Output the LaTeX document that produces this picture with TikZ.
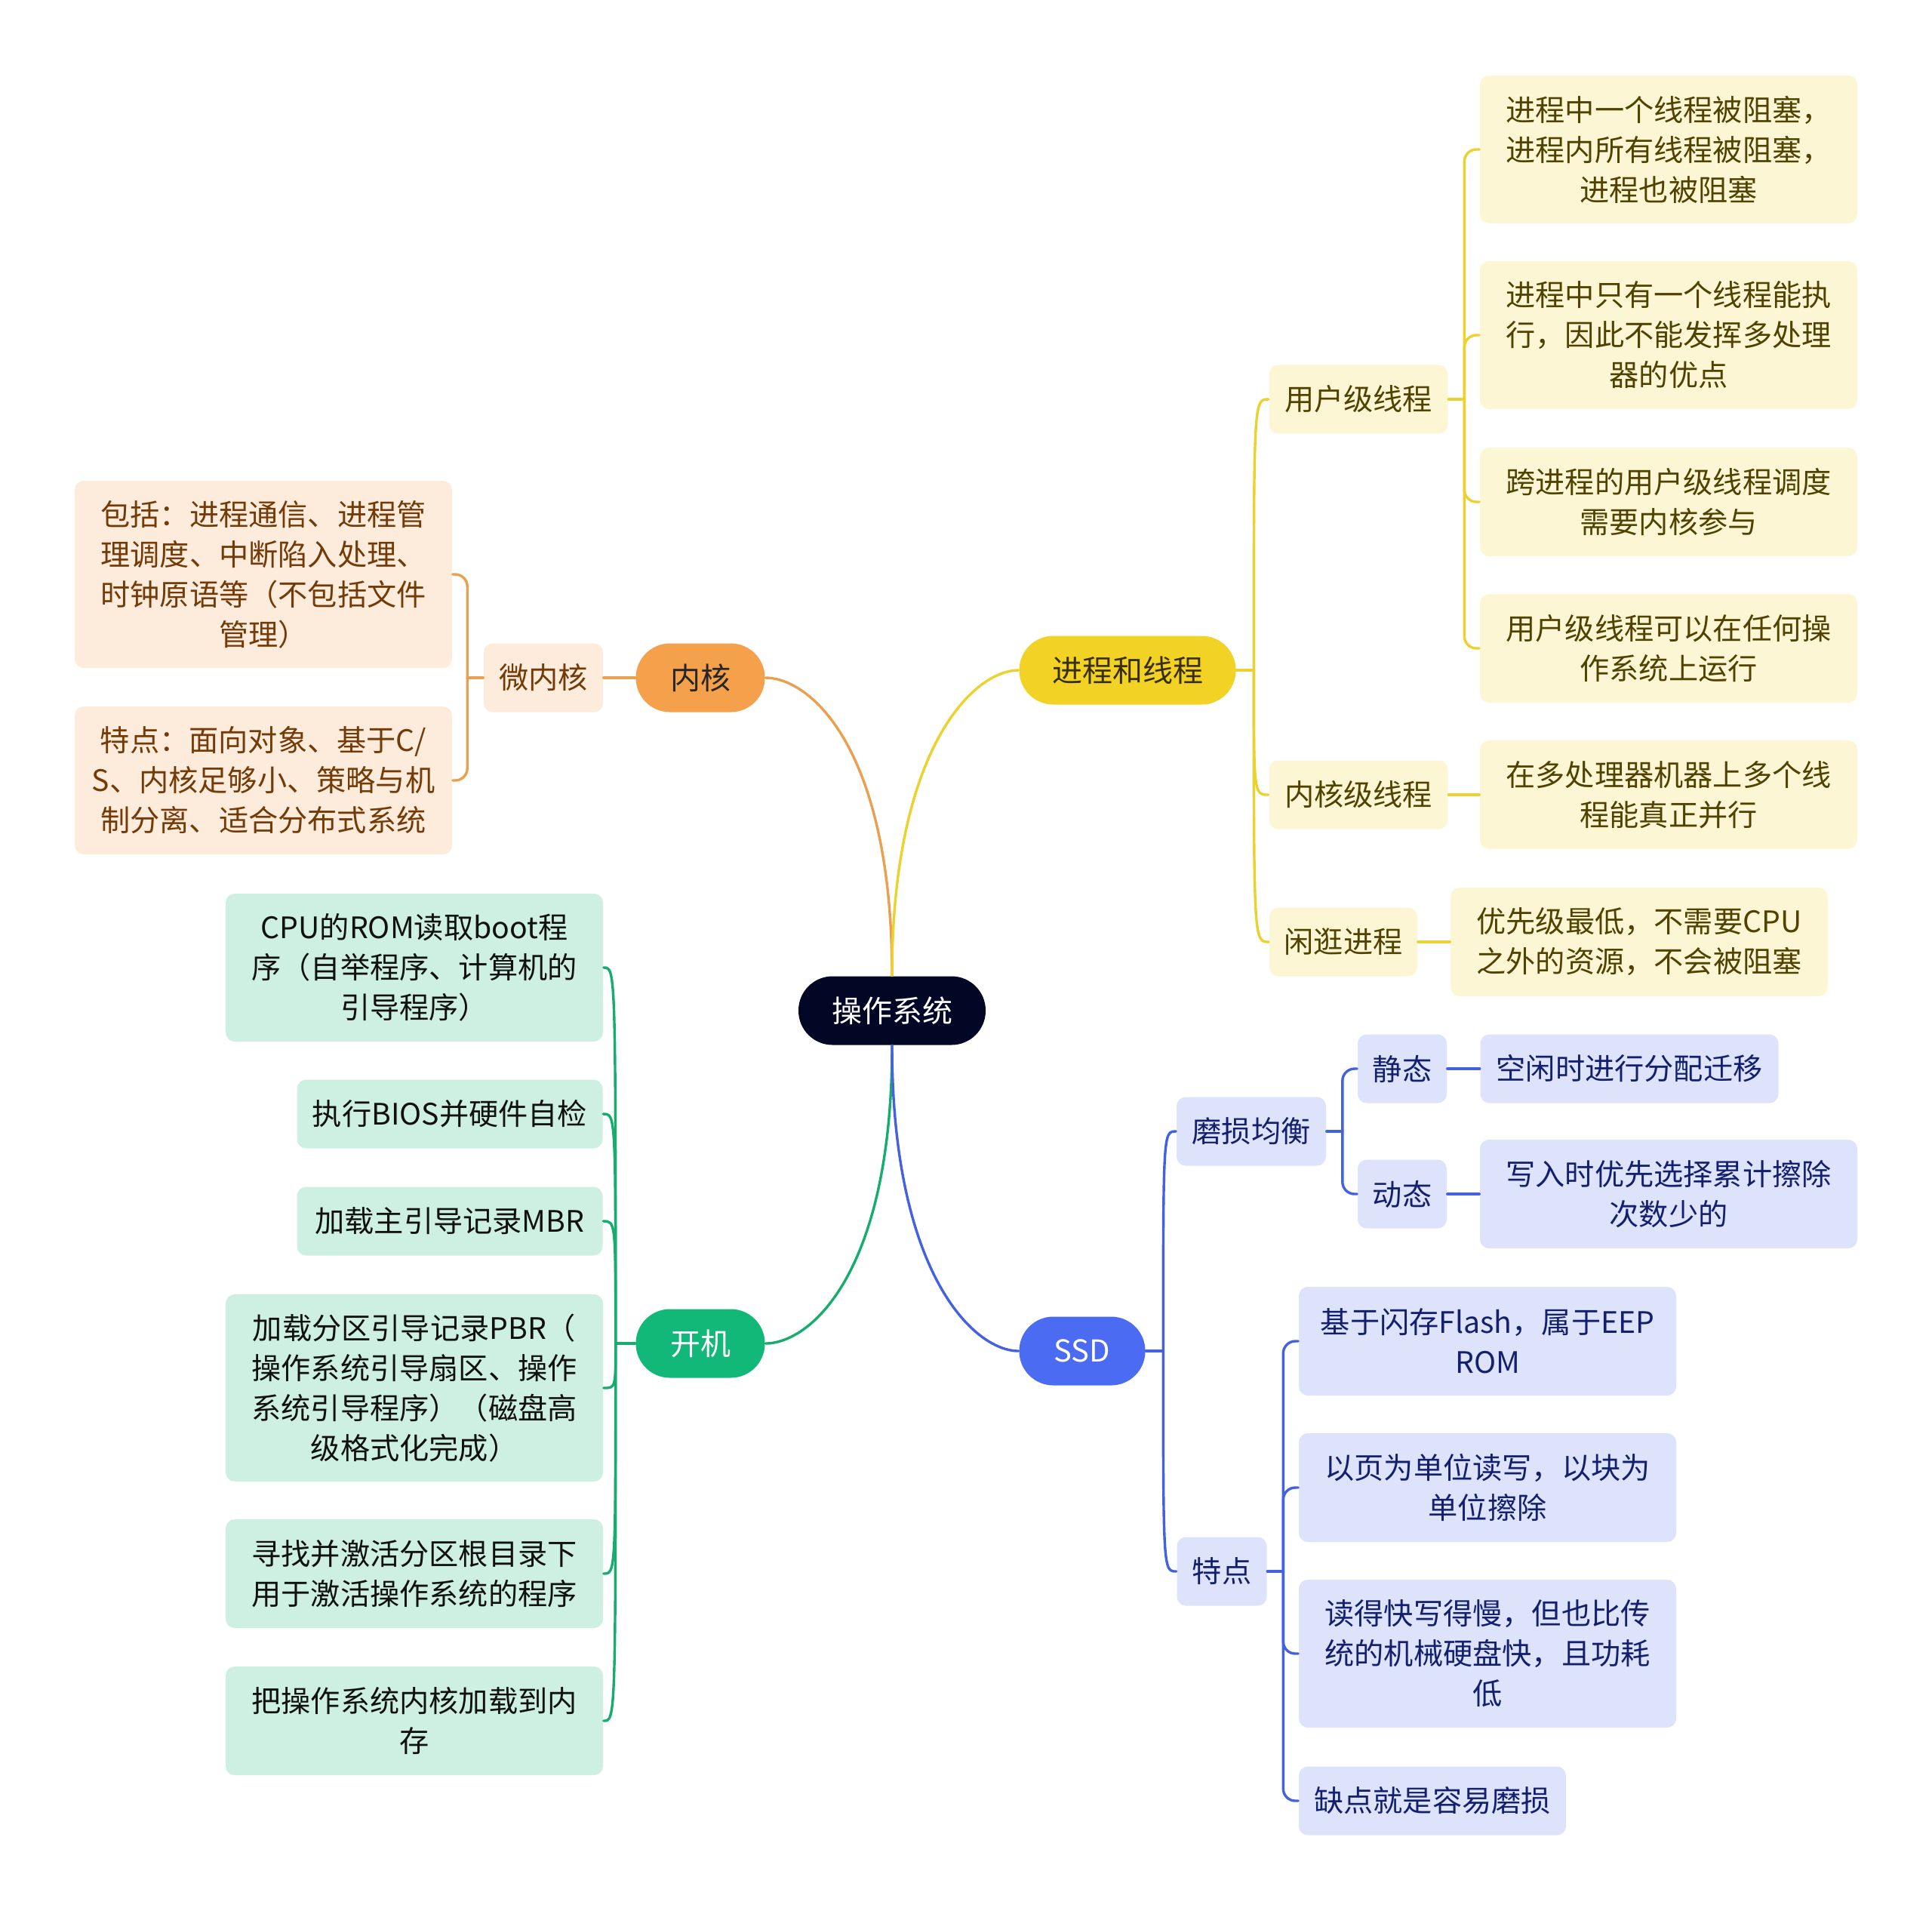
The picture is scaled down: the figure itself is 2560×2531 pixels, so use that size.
\documentclass[tikz,border=0pt]{standalone}
\usepackage{fontspec}
\setmainfont{Noto Sans CJK SC}
\usetikzlibrary{calc}
\definecolor{rootc}{HTML}{030726}
\definecolor{orc}{HTML}{F5A04B}
\definecolor{orline}{HTML}{E9A050}
\definecolor{orlight}{HTML}{FDEBDC}
\definecolor{ortext}{HTML}{733B08}
\definecolor{yec}{HTML}{F2D325}
\definecolor{yeline}{HTML}{EDD12E}
\definecolor{yelight}{HTML}{FDF6D4}
\definecolor{yetext}{HTML}{504200}
\definecolor{blc}{HTML}{4B6CF2}
\definecolor{blline}{HTML}{4462E0}
\definecolor{bllight}{HTML}{DCE3FB}
\definecolor{bltext}{HTML}{14206E}
\definecolor{grc}{HTML}{12B877}
\definecolor{grline}{HTML}{17AD6F}
\definecolor{grlight}{HTML}{CDF0E2}
\definecolor{grtext}{HTML}{111111}
\newcommand\mysmallfont{\fontsize{9.8pt}{13.25pt}\selectfont}
\newcommand\mybigfont{\fontsize{10pt}{13.25pt}\selectfont}
\tikzset{
  base/.style={inner sep=0pt, align=center, rounded corners=3pt, font=\mysmallfont, minimum height=22.75pt},
  pill/.style={base, rounded corners=11.3pt, font=\mybigfont},
  hh2/.style={minimum height=36pt},
  hh3/.style={minimum height=49pt},
  hh4/.style={minimum height=62pt},
  wbig/.style={minimum width=125pt},
  orbox/.style={base, fill=orlight, text=ortext},
  yebox/.style={base, fill=yelight, text=yetext},
  blbox/.style={base, fill=bllight, text=bltext},
  grbox/.style={base, fill=grlight, text=grtext},
  conn/.style={line width=0.85pt, line cap=round},
  brk/.style={conn, rounded corners=4pt},
}
\begin{document}
\begin{tikzpicture}[x=0.25pt, y=-0.25pt]
\useasboundingbox (0,0) rectangle (2560,2531);

% root
\node[pill, fill=rootc, text=white, minimum width=62pt] (root) at (1182,1339) {操作系统};

% level 1
\node[pill, fill=orc, text=black!85, minimum width=42.75pt] (neihe) at (928,898) {内核};
\node[pill, fill=yec, text=yetext!70!black, minimum width=71.75pt] (jc) at (1494,888) {进程和线程};
\node[pill, fill=blc, text=white, minimum width=41.75pt] (ssd) at (1434,1790) {SSD};
\node[pill, fill=grc, text=white, minimum width=42.75pt] (kj) at (928,1780) {开机};

% 内核 branch
\node[orbox, minimum width=39.5pt] (wnh) at (720,898) {微内核};
\node[orbox, wbig, hh4] (wn1) at (349,761) {包括：进程通信、进程管\\理调度、中断陷入处理、\\时钟原语等（不包括文件\\管理）};
\node[orbox, wbig, hh3] (wn2) at (349,1034) {特点：面向对象、基于C/\\S、内核足够小、策略与机\\制分离、适合分布式系统};

% 进程和线程 branch
\node[yebox, minimum width=59.25pt] (yh) at (1800,529) {用户级线程};
\node[yebox, minimum width=59.25pt] (nh) at (1800,1053) {内核级线程};
\node[yebox, minimum width=49pt] (xg) at (1780,1248) {闲逛进程};
\node[yebox, wbig, hh3] (yh1) at (2211,198) {进程中一个线程被阻塞，\\进程内所有线程被阻塞，\\进程也被阻塞};
\node[yebox, wbig, hh3] (yh2) at (2211,444) {进程中只有一个线程能执\\行，因此不能发挥多处理\\器的优点};
\node[yebox, wbig, hh2] (yh3) at (2211,665) {跨进程的用户级线程调度\\需要内核参与};
\node[yebox, wbig, hh2] (yh4) at (2211,859) {用户级线程可以在任何操\\作系统上运行};
\node[yebox, wbig, hh2] (nh1) at (2211,1053) {在多处理器机器上多个线\\程能真正并行};
\node[yebox, wbig, hh2] (xg1) at (2172,1248) {优先级最低，不需要CPU\\之外的资源，不会被阻塞};

% SSD branch
\node[blbox, minimum width=49.5pt] (ms) at (1658,1499) {磨损均衡};
\node[blbox, minimum width=29.5pt] (jingtai) at (1858,1416) {静态};
\node[blbox, minimum width=29.5pt] (dongtai) at (1858,1582) {动态};
\node[blbox, minimum width=98.75pt] (jingtai1) at (2159,1416) {空闲时进行分配迁移};
\node[blbox, wbig, hh2] (dongtai1) at (2211,1582) {写入时优先选择累计擦除\\次数少的};
\node[blbox, minimum width=29.75pt] (td) at (1619,2082) {特点};
\node[blbox, wbig, hh2] (td1) at (1971,1777) {基于闪存Flash，属于EEP\\ROM};
\node[blbox, wbig, hh2] (td2) at (1971,1971) {以页为单位读写，以块为\\单位擦除};
\node[blbox, wbig, hh3] (td3) at (1971,2191) {读得快写得慢，但也比传\\统的机械硬盘快，且功耗\\低};
\node[blbox, minimum width=88.5pt] (td4) at (1898,2386) {缺点就是容易磨损};

% 开机 branch
\node[grbox, wbig, hh3] (kj1) at (549,1282) {CPU的ROM读取boot程\\序（自举程序、计算机的\\引导程序）};
\node[grbox, minimum width=101.25pt] (kj2) at (596,1476) {执行BIOS并硬件自检};
\node[grbox, minimum width=101.25pt] (kj3) at (596,1618) {加载主引导记录MBR};
\node[grbox, wbig, hh4] (kj4) at (549,1839) {加载分区引导记录PBR（\\操作系统引导扇区、操作\\系统引导程序）（磁盘高\\级格式化完成）};
\node[grbox, wbig, hh2] (kj5) at (549,2085) {寻找并激活分区根目录下\\用于激活操作系统的程序};
\node[grbox, wbig, hh2] (kj6) at (549,2280) {把操作系统内核加载到内\\存};

% root connectors
\draw[conn, orline] (root.north) .. controls +(0,-300) and +(60,0) .. (neihe.east);
\draw[conn, yeline] (root.north) .. controls +(0,-300) and +(-60,0) .. (jc.west);
\draw[conn, grline] (root.south) .. controls +(0,300) and +(60,0) .. (kj.east);
\draw[conn, blline] (root.south) .. controls +(0,300) and +(-60,0) .. (ssd.west);

% 内核 connectors
\draw[conn, orline] (neihe.west) -- (wnh.east);
\draw[conn, orline] (wnh.west) -- ++(-21,0) coordinate (wb);
\draw[brk, orline] (wb) |- (wn1.east);
\draw[brk, orline] (wb) |- (wn2.east);

% 进程和线程 connectors
\draw[conn, yeline] (jc.east) -- ++(23,0) coordinate (jtr);
\foreach \c in {yh,nh,xg}{
  \draw[conn, yeline] (jtr) .. controls (jtr|-\c.west) .. (\c.west);
}
\draw[conn, yeline] (yh.east) -- ++(21,0) coordinate (yb);
\foreach \c in {yh1,yh2,yh3,yh4}{
  \draw[brk, yeline] (yb) |- (\c.west);
}
\draw[conn, yeline] (nh.east) -- (nh1.west);
\draw[conn, yeline] (xg.east) -- (xg1.west);

% SSD connectors
\draw[conn, blline] (ssd.east) -- ++(23,0) coordinate (str);
\foreach \c in {ms,td}{
  \draw[conn, blline] (str) .. controls (str|-\c.west) .. (\c.west);
}
\draw[conn, blline] (ms.east) -- ++(21,0) coordinate (mb);
\foreach \c in {jingtai,dongtai}{
  \draw[brk, blline] (mb) |- (\c.west);
}
\draw[conn, blline] (jingtai.east) -- (jingtai1.west);
\draw[conn, blline] (dongtai.east) -- (dongtai1.west);
\draw[conn, blline] (td.east) -- ++(21,0) coordinate (tb);
\foreach \c in {td1,td2,td3,td4}{
  \draw[brk, blline] (tb) |- (\c.west);
}

% 开机 connectors
\draw[conn, grline] (kj.west) -- ++(-26,0) coordinate (ktr);
\foreach \c in {kj1,kj2,kj3,kj4,kj5,kj6}{
  \draw[conn, grline] (ktr) .. controls (ktr|-\c.east) .. (\c.east);
}
\end{tikzpicture}
\end{document}
